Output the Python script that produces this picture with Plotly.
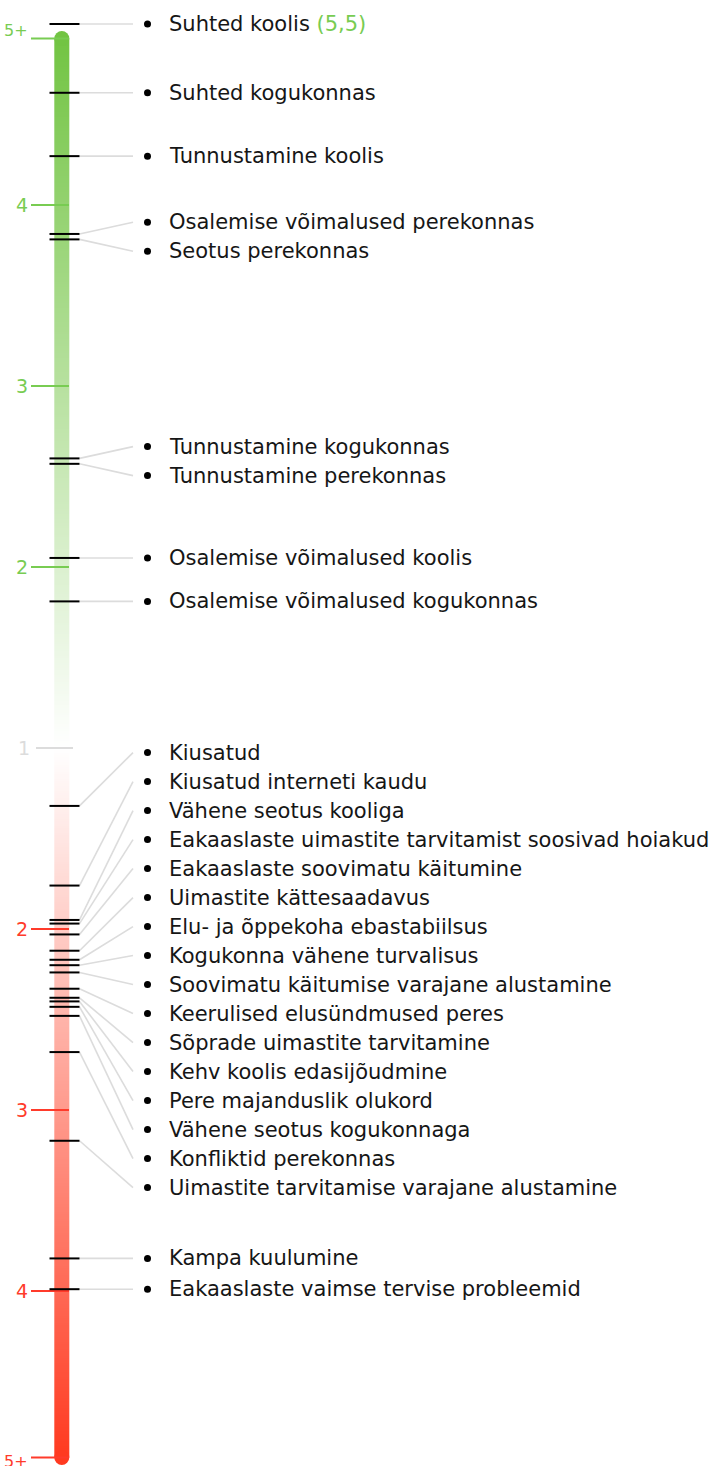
import plotly.graph_objects as go

# ---------------- data ----------------
protective_labels = [
    "Suhted koolis",
    "Suhted kogukonnas",
    "Tunnustamine koolis",
    "Osalemise võimalused perekonnas",
    "Seotus perekonnas",
    "Tunnustamine kogukonnas",
    "Tunnustamine perekonnas",
    "Osalemise võimalused koolis",
    "Osalemise võimalused kogukonnas",
]
protective_values = [5.5, 4.62, 4.27, 3.84, 3.81, 2.60, 2.57, 2.05, 1.81]

risk_labels = [
    "Kiusatud",
    "Kiusatud interneti kaudu",
    "Vähene seotus kooliga",
    "Eakaaslaste uimastite tarvitamist soosivad hoiakud",
    "Eakaaslaste soovimatu käitumine",
    "Uimastite kättesaadavus",
    "Elu- ja õppekoha ebastabiilsus",
    "Kogukonna vähene turvalisus",
    "Soovimatu käitumise varajane alustamine",
    "Keerulised elusündmused peres",
    "Sõprade uimastite tarvitamine",
    "Kehv koolis edasijõudmine",
    "Pere majanduslik olukord",
    "Vähene seotus kogukonnaga",
    "Konfliktid perekonnas",
    "Uimastite tarvitamise varajane alustamine",
    "Kampa kuulumine",
    "Eakaaslaste vaimse tervise probleemid",
]
risk_values = [1.32, 1.76, 1.95, 1.97, 2.03, 2.12, 2.17, 2.20, 2.24, 2.33,
               2.38, 2.40, 2.43, 2.48, 2.68, 3.17, 3.82, 3.99]

scale_ticks = ["5+", "4", "3", "2", "1", "2", "3", "4", "5+"]
scale_tick_values = [4.92, 4, 3, 2, 1, 2, 3, 4, 4.92]
scale_tick_sides = ["p", "p", "p", "p", "mid", "r", "r", "r", "r"]

# ---------------- style / layout constants ----------------
W, H = 717, 1466
PX_PER_UNIT = 181.0
CENTER_PX = 748.0
BAR_END = 4.92          # value where the bar body ends ("5+")
OVERFLOW_AT = 5.0       # values beyond the scale are drawn here
GREEN = "#72c443"
GREEN_TXT = "#78cc52"
RED = "#ff3a20"
RED_TXT = "#ff3b2b"
GREY = "#dcdcdc"
TEXT = "#161616"
FONT = "DejaVu Sans"

BAR_X0, BAR_X1 = 54.3, 69.3
BAR_XC = (BAR_X0 + BAR_X1) / 2
TICK_X0, TICK_X1 = 49.5, 79.5
LEAD_X1 = 133
BULLET_X = 147.5
TEXT_X = 167
GAP = 29 / PX_PER_UNIT


def pos(v, side):
    """signed position on the scale: protective upward (negative), risk downward."""
    if side == "mid":
        return 0.0
    d = min(v, OVERFLOW_AT) - 1
    return -d if side == "p" else d


def dodge(targets, gap):
    clusters = []
    for t in targets:
        clusters.append([1, t])
        while len(clusters) > 1:
            a, b = clusters[-2], clusters[-1]
            a_bot = a[1] / a[0] + (a[0] - 1) * gap / 2
            b_top = b[1] / b[0] - (b[0] - 1) * gap / 2
            if b_top - a_bot < gap:
                clusters[-2] = [a[0] + b[0], a[1] + b[1]]
                clusters.pop()
            else:
                break
    out = []
    for n, s in clusters:
        top = s / n - (n - 1) * gap / 2
        out += [top + k * gap for k in range(n)]
    return out


items = []
for lab, v in zip(protective_labels, protective_values):
    txt = lab
    if v > 5:
        num = f"{v:.1f}".replace(".", ",")
        txt += f" <span style='color:{GREEN_TXT}'>({num})</span>"
    items.append((pos(v, "p"), txt))
for lab, v in zip(risk_labels, risk_values):
    items.append((pos(v, "r"), lab))
items.sort(key=lambda t: t[0])
tick_pos = [p for p, _ in items]
label_pos = dodge(tick_pos, GAP)

fig = go.Figure()

# gradient bar (heatmap)
n = 600
bar_end = BAR_END - 1
edges = [-bar_end + 2 * bar_end * i / n for i in range(n + 1)]
centers = [(edges[i] + edges[i + 1]) / 2 for i in range(n)]
fig.add_trace(go.Heatmap(
    x=[BAR_X0, BAR_X1], y=edges, z=[[c] for c in centers],
    zmin=-bar_end, zmax=bar_end,
    colorscale=[[0, GREEN], [0.5, "#ffffff"], [1, RED]],
    showscale=False, hoverinfo="skip",
))
# rounded caps
fig.add_trace(go.Scatter(
    x=[BAR_XC, BAR_XC], y=[-bar_end, bar_end], mode="markers",
    marker=dict(size=15, color=[GREEN, RED], line=dict(width=0)),
    hoverinfo="skip", showlegend=False,
))

# scale ticks
for lab, v, side in zip(scale_ticks, scale_tick_values, scale_tick_sides):
    p = pos(v, side)
    if side == "mid":
        col, x0, x1, tx = GREY, 36, 73, 32
    else:
        col = GREEN_TXT if side == "p" else RED_TXT
        x0, x1, tx = 31, 69, 30
    fig.add_trace(go.Scatter(
        x=[x0, x1], y=[p, p], mode="lines",
        line=dict(color=col, width=2), hoverinfo="skip", showlegend=False,
    ))
    yshift = 0
    if lab == "5+":
        yshift = 8 if side == "p" else -4
    fig.add_annotation(
        x=tx, y=p, text=lab, showarrow=False, xanchor="right", yanchor="middle",
        yshift=yshift, font=dict(family=FONT, size=16 if lab == "5+" else 19, color=col),
    )

# leader lines
lx, ly = [], []
for tp, lp in zip(tick_pos, label_pos):
    lx += [TICK_X1, LEAD_X1, None]
    ly += [tp, lp, None]
fig.add_trace(go.Scatter(
    x=lx, y=ly, mode="lines", line=dict(color=GREY, width=1.6),
    hoverinfo="skip", showlegend=False,
))
# black value ticks
bx, by = [], []
for tp in tick_pos:
    bx += [TICK_X0, TICK_X1, None]
    by += [tp, tp, None]
fig.add_trace(go.Scatter(
    x=bx, y=by, mode="lines", line=dict(color="#000000", width=2),
    hoverinfo="skip", showlegend=False,
))
# bullets
fig.add_trace(go.Scatter(
    x=[BULLET_X] * len(label_pos), y=label_pos, mode="markers",
    marker=dict(size=7, color="#000000"), hoverinfo="skip", showlegend=False,
))
# labels
for (tp, txt), lp in zip(items, label_pos):
    fig.add_annotation(
        x=TEXT_X, y=lp, text=txt, showarrow=False, xanchor="left", yanchor="middle",
        font=dict(family=FONT, size=21, color=TEXT),
    )

fig.update_layout(
    width=W, height=H, margin=dict(l=0, r=0, t=0, b=0),
    paper_bgcolor="white", plot_bgcolor="white", showlegend=False,
    xaxis=dict(range=[0, W], visible=False, fixedrange=True),
    yaxis=dict(range=[(H - CENTER_PX) / PX_PER_UNIT, -CENTER_PX / PX_PER_UNIT],
               visible=False, fixedrange=True),
)
fig.write_html(
    "out.html",
    config={"displayModeBar": False},
    post_script="document.body.style.margin='0';document.body.style.overflow='hidden';",
)
